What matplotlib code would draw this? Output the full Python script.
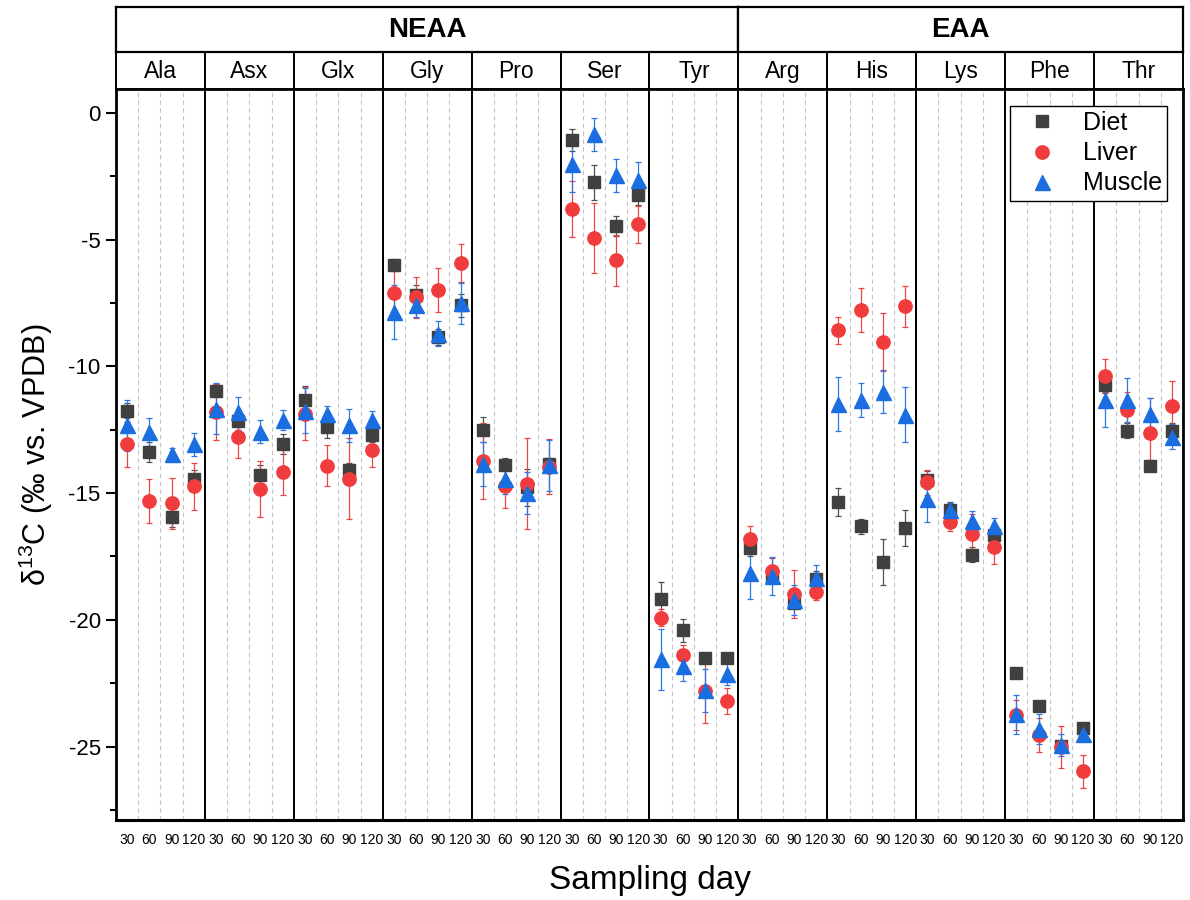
import matplotlib
matplotlib.use('Agg')
import matplotlib.pyplot as plt
from matplotlib.lines import Line2D

plt.rcParams['font.family'] = ['Liberation Sans', 'DejaVu Sans']
plt.rcParams['mathtext.default'] = 'regular'
plt.rcParams['axes.unicode_minus'] = False

amino_acids = ['Ala', 'Asx', 'Glx', 'Gly', 'Pro', 'Ser', 'Tyr',
               'Arg', 'His', 'Lys', 'Phe', 'Thr']
groups = [('NEAA', 0, 7), ('EAA', 7, 12)]
days = [30, 60, 90, 120]

# mean and SD of d13C per amino acid, one row per amino acid (days 30..120)
diet_mean = [
    [-11.75, -13.38, -15.95, -14.45],
    [-10.95, -12.17, -14.30, -13.05],
    [-11.34, -12.37, -14.10, -12.70],
    [-6.00, -7.19, -8.84, -7.59],
    [-12.49, -13.87, -14.77, -13.85],
    [-1.07, -2.73, -4.47, -3.24],
    [-19.18, -20.41, -21.49, -21.51],
    [-17.17, -18.26, -19.35, -18.39],
    [-15.34, -16.31, -17.71, -16.38],
    [-14.48, -15.66, -17.43, -16.64],
    [-22.11, -23.40, -24.98, -24.28],
    [-10.75, -12.53, -13.91, -12.53],
]
diet_sd = [
    [0.30, 0.40, 0.40, 0.35],
    [0.25, 0.35, 0.40, 0.40],
    [0.55, 0.45, 0.30, 0.30],
    [0.25, 0.40, 0.30, 0.45],
    [0.50, 0.25, 0.72, 0.25],
    [0.43, 0.70, 0.40, 0.40],
    [0.67, 0.45, 0.20, 0.10],
    [0.30, 0.30, 0.20, 0.30],
    [0.55, 0.30, 0.90, 0.72],
    [0.35, 0.30, 0.30, 0.30],
    [0.10, 0.10, 0.20, 0.10],
    [0.30, 0.30, 0.20, 0.30],
]
liver_mean = [
    [-13.08, -15.32, -15.40, -14.73],
    [-11.80, -12.77, -14.83, -14.17],
    [-11.86, -13.91, -14.43, -13.28],
    [-7.12, -7.27, -7.00, -5.92],
    [-13.72, -14.73, -14.63, -13.95],
    [-3.79, -4.93, -5.81, -4.39],
    [-19.91, -21.40, -22.80, -23.20],
    [-16.81, -18.06, -18.99, -18.92],
    [-8.58, -7.79, -9.04, -7.63],
    [-14.57, -16.13, -16.61, -17.14],
    [-23.75, -24.55, -25.02, -25.97],
    [-10.36, -11.70, -12.62, -11.57],
]
liver_sd = [
    [0.90, 0.87, 1.00, 0.92],
    [1.10, 0.85, 1.10, 0.90],
    [1.05, 0.80, 1.60, 0.70],
    [1.00, 0.80, 0.87, 0.75],
    [1.50, 0.87, 1.80, 1.10],
    [1.10, 1.40, 1.00, 0.72],
    [0.35, 0.40, 1.27, 0.50],
    [0.53, 0.50, 0.95, 0.30],
    [0.52, 0.87, 1.15, 0.82],
    [0.50, 0.37, 0.80, 0.65],
    [0.60, 0.68, 0.84, 0.65],
    [0.65, 0.70, 1.36, 1.00],
]
muscle_mean = [
    [-12.33, -12.60, -13.45, -13.08],
    [-11.67, -11.80, -12.57, -12.10],
    [-11.74, -11.86, -12.33, -12.10],
    [-7.85, -7.56, -8.70, -7.51],
    [-13.85, -14.43, -15.00, -13.90],
    [-2.02, -0.83, -2.45, -2.65],
    [-21.55, -21.82, -22.78, -22.12],
    [-18.17, -18.26, -19.22, -18.35],
    [-11.47, -11.34, -10.99, -11.90],
    [-15.23, -15.66, -16.11, -16.28],
    [-23.73, -24.32, -24.94, -24.49],
    [-11.34, -11.34, -11.87, -12.77],
]
muscle_sd = [
    [1.00, 0.55, 0.25, 0.45],
    [1.00, 0.60, 0.45, 0.40],
    [0.90, 0.30, 0.65, 0.35],
    [1.05, 0.50, 0.50, 0.80],
    [0.85, 0.60, 0.82, 1.00],
    [1.10, 0.65, 0.65, 0.72],
    [1.20, 0.58, 0.85, 0.45],
    [1.02, 0.75, 0.58, 0.50],
    [1.07, 0.67, 0.84, 1.08],
    [0.90, 0.28, 0.40, 0.30],
    [0.77, 0.60, 0.45, 0.15],
    [1.05, 0.87, 0.62, 0.50],
]

series = [
    ('Diet', diet_mean, diet_sd, 's', '#404040', '#505050', 8.6),
    ('Liver', liver_mean, liver_sd, 'o', '#f03c3c', '#ee4444', 9.6),
    ('Muscle', muscle_mean, muscle_sd, '^', '#1a6ee0', '#2a78e6', 10.8),
]

W, H = 1190, 900
fig = plt.figure(figsize=(W / 100, H / 100), dpi=100)

left, right = 116 / W, 1183 / W
bottom, top = 1 - 820 / H, 1 - 89 / H
strip_top = 1 - 52 / H
head_top = 1 - 7 / H
n = len(amino_acids)
pw = (right - left) / n

axes = []
for i, aa in enumerate(amino_acids):
    ax = fig.add_axes([left + i * pw, bottom, pw, top - bottom])
    for name, mean, sd, mk, col, ecol, ms in series:
        ax.errorbar(days, mean[i], yerr=sd[i], fmt=mk, ms=ms, color=col,
                    mec=col, ecolor=ecol, elinewidth=0.9, capsize=2.4,
                    capthick=0.9, zorder=3)
    ax.set_xlim(15, 135)
    ax.set_ylim(-27.9, 0.95)
    ax.set_xticks(days)
    ax.set_xticklabels([str(d) for d in days], fontsize=10)
    ax.set_xticks([45, 75, 105], minor=True)
    ax.grid(which='minor', axis='x', ls=(0, (4, 3)), color='#c4c4c4', lw=0.8)
    ax.set_axisbelow(True)
    ax.tick_params(axis='x', which='both', length=0, pad=9)
    for s in ['top', 'bottom', 'left', 'right']:
        ax.spines[s].set_linewidth(1.4)
    ax.spines['bottom'].set_linewidth(2.2)
    ax.spines['top'].set_linewidth(2.0)
    if i == 0:
        ax.spines['left'].set_linewidth(2.0)
        ax.set_yticks([0, -5, -10, -15, -20, -25])
        ax.set_yticks([-2.5, -7.5, -12.5, -17.5, -22.5, -27.5], minor=True)
        ax.tick_params(axis='y', which='major', length=7, width=1.5,
                       labelsize=16, pad=4)
        ax.tick_params(axis='y', which='minor', length=4, width=1.5)
        ax.set_ylabel('δ$^{13}$C (‰ vs. VPDB)', fontsize=22, labelpad=10)
    else:
        ax.tick_params(axis='y', which='both', left=False, labelleft=False)
    if i == n - 1:
        ax.spines['right'].set_linewidth(2.0)
    axes.append(ax)

    # amino acid strip
    sx = fig.add_axes([left + i * pw, top, pw, strip_top - top])
    sx.set_xticks([])
    sx.set_yticks([])
    for s in sx.spines.values():
        s.set_linewidth(1.4)
    sx.text(0.5, 0.48, aa, ha='center', va='center', fontsize=16.5,
            transform=sx.transAxes)

# NEAA / EAA header
for label, a, b in groups:
    hx = fig.add_axes([left + a * pw, strip_top, (b - a) * pw, head_top - strip_top])
    hx.set_xticks([])
    hx.set_yticks([])
    for s in hx.spines.values():
        s.set_linewidth(1.6)
    hx.text(0.5, 0.48, label, ha='center', va='center', fontsize=20,
            fontweight='bold', transform=hx.transAxes)

fig.text((left + right) / 2, 1 - 880 / H, 'Sampling day', ha='center',
         va='center', fontsize=24)

handles = [Line2D([], [], ls='none', marker=mk, color=col, ms=ms)
           for name, mean, sd, mk, col, ecol, ms in series]
leg = fig.legend(handles, [s[0] for s in series], loc='upper right',
                 bbox_to_anchor=(1167 / W, 1 - 106 / H), fontsize=18,
                 frameon=True, fancybox=False, edgecolor='black',
                 framealpha=1, borderpad=0.2, labelspacing=0.25,
                 handletextpad=0.6, handlelength=2.1, borderaxespad=0)
leg.get_frame().set_linewidth(1.0)

fig.savefig('out.png', dpi=100)
